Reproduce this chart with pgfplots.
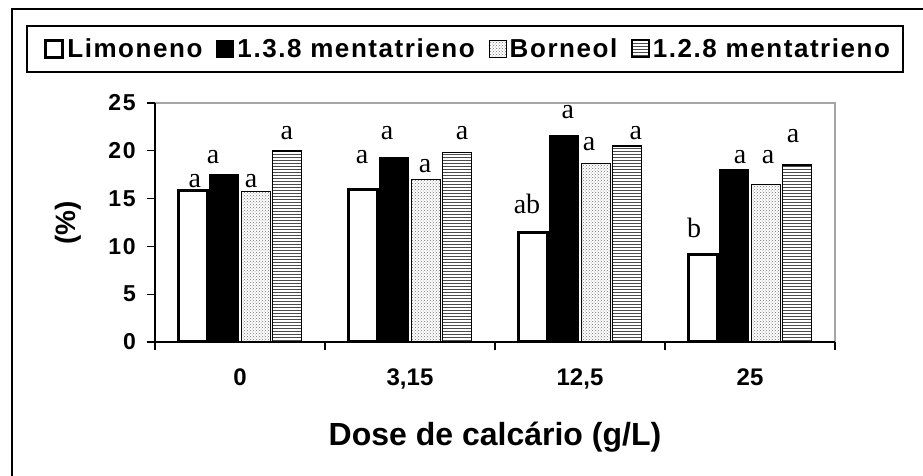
\documentclass[border=0pt]{standalone}
\usepackage{pgfplots}
\pgfplotsset{compat=1.18}
\usepackage{fontspec}
\setmainfont{Liberation Sans}
\newfontfamily\legfont[LetterSpace=6]{Liberation Sans}
\newfontfamily\tickfont[LetterSpace=8]{Liberation Sans}
\newfontfamily\serifletters{Liberation Serif}
\usetikzlibrary{patterns}
\begin{document}
\begin{tikzpicture}[x=1pt,y=1pt]
\useasboundingbox (0,0) rectangle (923,476);
% outer frame (clipped on right and bottom)
\draw[line width=2pt] (12,-10) -- (12,467) -- (935,467);
% legend box
\draw[line width=1.5pt] (27,404) rectangle (903,450);
\begin{axis}[
  at={(155pt,134pt)}, anchor=south west,
  width=680pt, height=239pt, scale only axis,
  xmin=0, xmax=4, ymin=0, ymax=25,
  clip=false,
  axis line style={draw=none},
  ybar, bar width=29pt,
  xtick={0,1,2,3,4}, xticklabels={},
  extra x ticks={0.5,1.5,2.5,3.5},
  extra x tick labels={0,{3,15},{12,5},25},
  extra x tick style={major tick length=0pt},
  xtick pos=bottom, ytick pos=left,
  ytick={0,5,10,15,20,25},
  tick align=outside, major tick length=8pt,
  tick style={black, line width=1.2pt},
  /pgf/number format/assume math mode=true,
  xticklabel style={anchor=base, yshift=-43.5pt, font=\fontsize{24}{24}\selectfont\bfseries},
  yticklabel style={anchor=east, inner sep=0pt, xshift=-11pt, font=\tickfont\fontsize{23}{23}\selectfont\bfseries},
  xlabel={Dose de calcário (g/L)},
  xlabel style={at={(axis description cs:0.5,0)}, anchor=base, yshift=-103pt, font=\fontsize{32}{32}\selectfont\bfseries},
  ylabel={(\%)},
  ylabel style={at={(axis description cs:-0.128,0.498)}, anchor=center, font=\fontsize{28}{28}\selectfont\bfseries},
  legend style={at={(axis description cs:-0.163,1.2259)}, anchor=west, draw=none, fill=none,
    legend columns=4, font=\legfont\fontsize{26}{26}\selectfont\bfseries,
    /tikz/every even column/.append style={column sep=11pt},
    inner sep=0pt, nodes={inner xsep=3pt}},
  legend image code/.code={\draw[#1] (0pt,-8pt) rectangle (17pt,9pt);},
]
\addplot[fill=white, draw=black, line width=3pt, bar shift=-47pt]
  coordinates {(0.5,15.8) (1.5,16.0) (2.5,11.5) (3.5,9.2)};
\addlegendentry{Limoneno}
\addplot[fill=black, draw=black, line width=1pt, bar shift=-15.7pt]
  coordinates {(0.5,17.5) (1.5,19.3) (2.5,21.65) (3.5,18.0)};
\addlegendentry{1.3.8 mentatrieno}
\addplot[fill=white, draw=black, line width=1pt, bar shift=15.7pt,
  postaction={pattern=crosshatch dots, pattern color=black!55}]
  coordinates {(0.5,15.7) (1.5,17.0) (2.5,18.7) (3.5,16.5)};
\addlegendentry{Borneol}
\addplot[fill=white, draw=black, line width=1.5pt, bar shift=47pt,
  postaction={pattern=horizontal lines, pattern color=black!70}]
  coordinates {(0.5,20.0) (1.5,19.8) (2.5,20.5) (3.5,18.5)};
\addlegendentry{1.2.8 mentatrieno}
% axis frame: black left/bottom, gray top/right
\draw[gray!70, line width=1.2pt] (rel axis cs:0,1) -- (rel axis cs:1,1) -- (rel axis cs:1,0);
\draw[black, line width=1.5pt] (rel axis cs:0,1) -- (rel axis cs:0,0) -- (rel axis cs:1,0);
% significance letters
\begin{scope}[every node/.style={anchor=base, inner sep=0pt, font=\serifletters\fontsize{28}{28}\selectfont}]
\node at (axis cs:0.235,16.11) {a};
\node at (axis cs:0.341,18.62) {a};
\node at (axis cs:0.565,16.11) {a};
\node at (axis cs:0.776,21.13) {a};
\node at (axis cs:1.218,18.62) {a};
\node at (axis cs:1.365,21.13) {a};
\node at (axis cs:1.588,17.78) {a};
\node at (axis cs:1.806,21.13) {a};
\node at (axis cs:2.188,13.39) {ab};
\node at (axis cs:2.429,23.43) {a};
\node at (axis cs:2.553,20.08) {a};
\node at (axis cs:2.829,21.13) {a};
\node at (axis cs:3.171,10.98) {b};
\node at (axis cs:3.441,18.72) {a};
\node at (axis cs:3.606,18.62) {a};
\node at (axis cs:3.753,20.92) {a};
\end{scope}
\end{axis}
\end{tikzpicture}
\end{document}
